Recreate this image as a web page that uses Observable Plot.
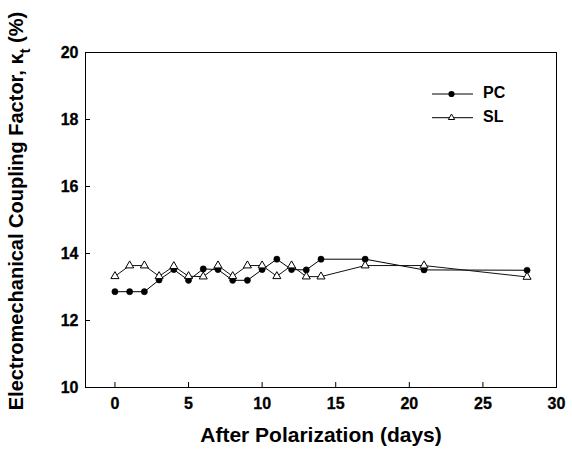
<!DOCTYPE html>
<html><head><meta charset="utf-8">
<script src="https://cdn.jsdelivr.net/npm/d3@7"></script>
<script src="https://cdn.jsdelivr.net/npm/@observablehq/plot@0.6"></script>
<style>
body{margin:0;background:#fff;}
#chart{width:572px;height:456px;}
</style></head><body><div id="chart"></div>
<script>
const days = [0,1,2,3,4,5,6,7,8,9,10,11,12,13,14,17,21,28];
const pc = [12.86,12.86,12.86,13.21,13.52,13.20,13.54,13.52,13.20,13.20,13.52,13.83,13.52,13.51,13.83,13.83,13.51,13.50];
const sl = [13.32,13.64,13.64,13.32,13.62,13.32,13.31,13.64,13.32,13.64,13.64,13.32,13.64,13.31,13.31,13.64,13.64,13.30];
const seriesNames = ["PC","SL"];
const xTicks = [0,5,10,15,20,25,30];
const yTicks = [10,12,14,16,18,20];
const xDomain = [-2,30];
const yDomain = [10,20];
const xLabel = "After Polarization (days)";
const yLabelMain = "Electromechanical Coupling Factor, κ";
const yLabelSub = "t";
const yLabelEnd = " (%)";

const pcRows = days.map((d,i)=>({day:d, value:pc[i]}));
const slRows = days.map((d,i)=>({day:d, value:sl[i]}));

const font = "'Liberation Sans', Arial, Helvetica, sans-serif";
const dotR = 3.1, triR = 3.0;
const tickText = {fontSize:16, fontWeight:"bold", fontFamily:font, fill:"#000", stroke:"#000", strokeWidth:0.3};
const plot = Plot.plot({
  width:572, height:456,
  marginLeft:85, marginRight:16, marginTop:52, marginBottom:69,
  style:{fontFamily:font, fontWeight:"bold", fontSize:"16px", color:"#000", background:"#fff", overflow:"visible"},
  x:{domain:xDomain, label:null},
  y:{domain:yDomain, label:null},
  marks:[
    Plot.axisX({ticks:xTicks, tickSize:-5, label:null, text:null, stroke:"#000"}),
    Plot.axisY({ticks:yTicks, tickSize:-5, label:null, text:null, stroke:"#000"}),
    Plot.text(xTicks, {x:d=>d, frameAnchor:"bottom", dy:21, ...tickText}),
    Plot.text(yTicks, {y:d=>d, frameAnchor:"left", dx:-7, textAnchor:"end", ...tickText}),
    Plot.frame({stroke:"#000", strokeWidth:1}),
    Plot.line(pcRows, {x:"day", y:"value", stroke:"#000", strokeWidth:1}),
    Plot.line(slRows, {x:"day", y:"value", stroke:"#111", strokeWidth:1}),
    Plot.dot(pcRows, {x:"day", y:"value", r:dotR, fill:"#000", stroke:"#000", strokeWidth:0.5}),
    Plot.dot(slRows, {x:"day", y:"value", r:triR, symbol:"triangle", fill:"#fff", stroke:"#000", strokeWidth:1}),
    Plot.text([xLabel], {frameAnchor:"bottom", dy:54, fontSize:21, fontWeight:"bold", fontFamily:font, fill:"#000"})
  ]
});
document.getElementById("chart").appendChild(plot);

const svg = d3.select(plot);
// y-axis title with subscript
const yt = svg.append("text")
  .attr("transform","translate(18,211) rotate(-90)")
  .attr("text-anchor","middle")
  .attr("dominant-baseline","middle")
  .attr("font-family",font).attr("font-weight","bold").attr("font-size",20).attr("fill","#000");
yt.append("tspan").text(yLabelMain);
yt.append("tspan").attr("baseline-shift","sub").attr("font-size",15).text(yLabelSub);
yt.append("tspan").text(yLabelEnd);

// legend
const legend = svg.append("g").attr("transform","translate(432,94)");
seriesNames.forEach((name,i)=>{
  const g = legend.append("g").attr("transform",`translate(0,${i*23.7})`);
  g.append("line").attr("x1",0).attr("x2",41).attr("y1",0).attr("y2",0).attr("stroke","#000").attr("stroke-width",1);
  if (i===0) {
    g.append("circle").attr("cx",19.5).attr("cy",0).attr("r",dotR).attr("fill","#000");
  } else {
    g.append("path").attr("transform","translate(19.5,0)")
      .attr("d", d3.symbol(d3.symbolTriangle2, triR*triR*Math.PI)())
      .attr("fill","#fff").attr("stroke","#000");
  }
  g.append("text").attr("x",51).attr("y",0).attr("dominant-baseline","middle").attr("text-anchor","start")
    .attr("font-family",font).attr("font-weight","bold").attr("font-size",16).attr("fill","#000").text(name);
});
</script></body></html>
